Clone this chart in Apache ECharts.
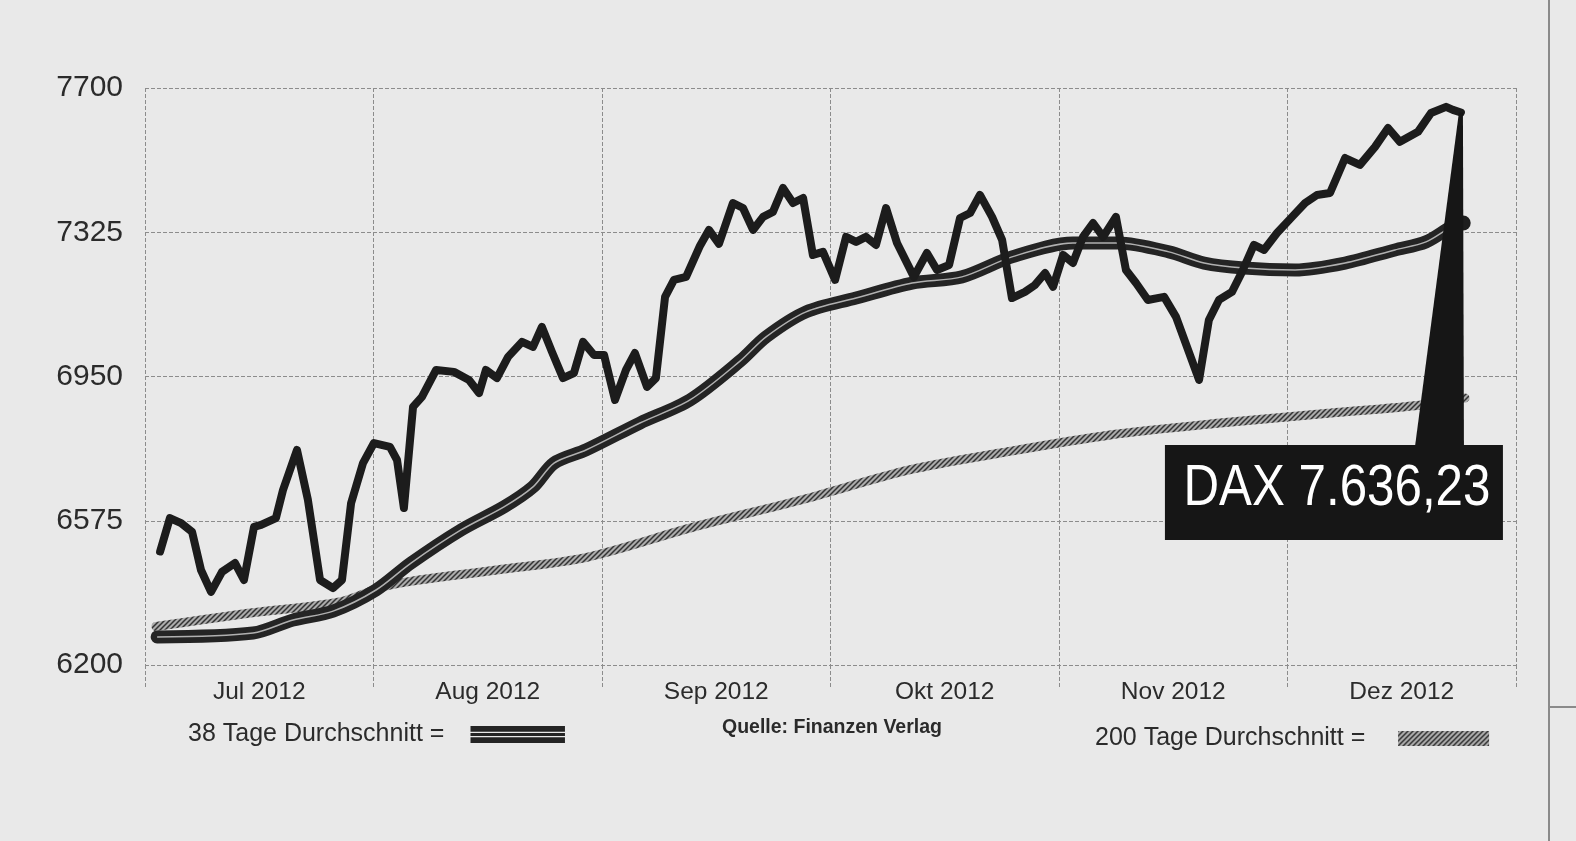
<!DOCTYPE html>
<html>
<head>
<meta charset="utf-8">
<script src="https://cdn.jsdelivr.net/npm/echarts@6/dist/echarts.min.js"></script>
<style>
  html, body { margin: 0; padding: 0; background: #e9e9e9; }
  #chart { width: 1576px; height: 841px; }
</style>
</head>
<body>
<div id="chart"></div>
<script>
// ---- data (x positions are in months since 1 Jul 2012) ----
const months = ['Jul 2012', 'Aug 2012', 'Sep 2012', 'Okt 2012', 'Nov 2012', 'Dez 2012'];
const yTicks = [6200, 6575, 6950, 7325, 7700];

const daxT = [0.066,0.109,0.158,0.206,0.245,0.289,0.337,0.394,0.433,0.477,
  0.508,0.573,0.604,0.665,0.713,0.766,0.823,0.862,0.902,0.954,
  1.002,1.072,1.103,1.133,1.173,1.212,1.274,1.352,1.418,1.462,
  1.492,1.540,1.589,1.650,1.698,1.737,1.781,1.829,1.877,1.917,
  1.965,2.009,2.057,2.105,2.144,2.197,2.236,2.276,2.315,2.368,
  2.429,2.468,2.512,2.573,2.617,2.661,2.705,2.748,2.792,2.836,
  2.880,2.923,2.967,3.020,3.068,3.112,3.155,3.199,3.243,3.291,
  3.365,3.422,3.466,3.519,3.567,3.611,3.654,3.707,3.751,3.794,
  3.851,3.895,3.939,3.974,4.018,4.061,4.105,4.149,4.193,4.249,
  4.293,4.337,4.389,4.460,4.512,4.613,4.656,4.700,4.757,4.801,
  4.853,4.897,4.954,5.020,5.077,5.129,5.186,5.252,5.317,5.383,
  5.440,5.492,5.571,5.628,5.694,5.724,5.759];
const daxV = [6495,6582,6569,6546,6447,6390,6442,6465,6421,6559,
  6564,6582,6655,6759,6629,6421,6400,6421,6621,6725,
  6777,6767,6733,6608,6871,6897,6967,6962,6941,6907,
  6967,6946,7001,7040,7027,7079,7014,6946,6959,7040,
  7006,7006,6889,6967,7011,6923,6946,7157,7201,7209,
  7290,7331,7295,7401,7388,7331,7365,7378,7440,7401,
  7414,7266,7274,7201,7313,7300,7313,7292,7388,7297,
  7209,7271,7227,7240,7362,7375,7422,7365,7305,7154,
  7170,7188,7219,7183,7266,7245,7313,7349,7313,7365,
  7227,7193,7149,7157,7105,6941,7097,7149,7170,7222,
  7292,7279,7323,7365,7401,7422,7427,7518,7500,7547,
  7596,7560,7586,7635,7651,7643,7636.23];

const ma38T = [0.053,0.473,0.648,0.823,1.011,1.164,1.383,1.571,1.698,1.790,
  1.930,2.166,2.385,2.604,2.718,2.893,3.112,3.357,3.575,3.794,
  4.061,4.258,4.481,4.635,4.810,5.033,5.252,5.470,5.606,5.716,5.759];
const ma38V = [6273,6283,6317,6340,6395,6465,6551,6611,6663,6725,
  6759,6829,6889,6990,7053,7118,7154,7193,7209,7261,
  7297,7297,7274,7245,7232,7227,7245,7279,7300,7339,7349];

const ma200T = [0.048,0.460,0.853,1.072,1.540,1.934,2.403,2.871,3.344,3.742,
  4.223,4.705,5.190,5.589,5.777];
const ma200V = [6300,6335,6364,6408,6447,6480,6559,6629,6707,6751,
  6798,6829,6855,6876,6894];

const seriesNames = ['38 Tage Durchschnitt', '200 Tage Durchschnitt', 'DAX'];
const sourceText = 'Quelle: Finanzen Verlag';

// ---- helpers ----
const zip = (a, b) => a.map((v, i) => [v, b[i]]);
function fmtDE(v) {
  const parts = v.toFixed(2).split('.');
  return parts[0].replace(/\B(?=(\d{3})+(?!\d))/g, '.') + ',' + parts[1];
}
function hatchCanvas() {
  const s = 5;
  const c = document.createElement('canvas');
  c.width = s; c.height = s;
  const g = c.getContext('2d');
  g.fillStyle = '#ababab';
  g.fillRect(0, 0, s, s);
  g.strokeStyle = '#333333';
  g.lineWidth = 1.5;
  g.beginPath();
  g.moveTo(0, s); g.lineTo(s, 0);
  g.moveTo(-1, 1); g.lineTo(1, -1);
  g.moveTo(s - 1, s + 1); g.lineTo(s + 1, s - 1);
  g.stroke();
  return c;
}
const hatch = { image: hatchCanvas(), repeat: 'repeat' };

const FONT = '"Liberation Sans", Arial, Helvetica, sans-serif';
const gridLine = { color: '#8c8c8c', width: 1, type: [4, 2] };

const chart = echarts.init(document.getElementById('chart'), null, { renderer: 'canvas' });

chart.setOption({
  backgroundColor: '#e9e9e9',
  animation: false,
  textStyle: { fontFamily: FONT },
  title: {
    text: sourceText,
    left: 722, top: 718, padding: 0,
    textStyle: { fontSize: 19.5, fontWeight: 'bold', color: '#2a2a2a', fontFamily: FONT }
  },
  legend: [
    {
      data: [{ name: seriesNames[0],
        icon: 'path://M0,0H100V6H0Z M0,7.3H100V10.7H0Z M0,12H100V18H0Z',
        itemStyle: { color: '#242424', borderWidth: 0, borderColor: 'transparent' } }],
      left: 188, top: 722, itemWidth: 95, itemHeight: 17, align: 'right',
      selectedMode: false, padding: 0,
      formatter: '{name} =   ',
      textStyle: { fontSize: 25, color: '#2b2b2b', fontFamily: FONT }
    },
    {
      data: [{ name: seriesNames[1], icon: 'rect',
        itemStyle: { color: hatch, borderWidth: 0, borderColor: 'transparent' } }],
      left: 1095, top: 726, itemWidth: 91, itemHeight: 15, align: 'right',
      selectedMode: false, padding: 0,
      formatter: '{name} =    ',
      textStyle: { fontSize: 25, color: '#2b2b2b', fontFamily: FONT }
    }
  ],
  grid: { left: 145, right: 60, top: 88, bottom: 176, containLabel: false },
  xAxis: [
    {
      type: 'category', data: months, boundaryGap: true,
      axisLine: { show: false },
      axisTick: { show: true, length: 23, interval: 0, lineStyle: gridLine },
      axisLabel: { fontSize: 24.5, color: '#2b2b2b', margin: 15, interval: 0, fontFamily: FONT },
      splitLine: { show: true, interval: 0, lineStyle: gridLine }
    },
    { type: 'value', min: 0, max: months.length, show: false }
  ],
  yAxis: {
    type: 'value',
    min: yTicks[0], max: yTicks[yTicks.length - 1], interval: yTicks[1] - yTicks[0],
    axisLine: { show: false }, axisTick: { show: false },
    axisLabel: { fontSize: 30, color: '#2b2b2b', margin: 22, fontFamily: FONT,
      formatter: v => String(v) },
    splitLine: { show: true, lineStyle: gridLine }
  },
  series: [
    {
      name: seriesNames[1], type: 'line', xAxisIndex: 1, data: zip(ma200T, ma200V),
      smooth: 0.3, showSymbol: false, z: 2, emphasis: { disabled: true },
      lineStyle: { color: hatch, width: 9, cap: 'round' }
    },
    {
      name: seriesNames[0], type: 'line', xAxisIndex: 1, data: zip(ma38T, ma38V),
      smooth: 0.3, showSymbol: false, z: 3, emphasis: { disabled: true },
      lineStyle: { color: '#242424', width: 13, cap: 'round' },
      itemStyle: { color: '#242424' },
      markPoint: {
        symbol: 'circle', symbolSize: 15, silent: true, label: { show: false },
        itemStyle: { color: '#1e1e1e' },
        data: [{ coord: [ma38T[ma38T.length - 1] + 0.01, ma38V[ma38V.length - 1]] }]
      }
    },
    {
      name: 'ma38-stripe', type: 'line', xAxisIndex: 1, data: zip(ma38T, ma38V),
      smooth: 0.3, showSymbol: false, z: 4, emphasis: { disabled: true },
      lineStyle: { color: '#b0b0b0', width: 1.5 }
    },
    {
      name: seriesNames[2], type: 'line', xAxisIndex: 1, data: zip(daxT, daxV),
      showSymbol: false, z: 5, emphasis: { disabled: true },
      lineStyle: { color: '#1c1c1c', width: 8, join: 'round', cap: 'round' }
    }
  ]
});

// ---- DAX call-out anchored at the last data point ----
const n = daxT.length;
const tip = chart.convertToPixel({ xAxisIndex: 1, yAxisIndex: 0 }, [daxT[n - 1], daxV[n - 1]]);
const boxTop = chart.convertToPixel({ yAxisIndex: 0 }, 6772);
const boxBottom = chart.convertToPixel({ yAxisIndex: 0 }, 6525);
const boxLeft = tip[0] - 296, boxRight = tip[0] + 42;
const label = 'DAX ' + fmtDE(daxV[n - 1]);

chart.setOption({
  graphic: [
    { type: 'polygon', z: 100, silent: true,
      shape: { points: [[tip[0] - 2, tip[1]], [tip[0] - 46, boxTop + 2], [tip[0] + 3, boxTop + 2], [tip[0] + 2, tip[1]]] },
      style: { fill: '#161616' } },
    { type: 'rect', z: 100, silent: true,
      shape: { x: boxLeft, y: boxTop, width: boxRight - boxLeft, height: boxBottom - boxTop },
      style: { fill: '#161616' } },
    { type: 'text', z: 101, silent: true,
      x: (boxLeft + boxRight) / 2 + 3, y: (boxTop + boxBottom) / 2 - 3,
      scaleX: 0.85,
      style: { text: label, fill: '#ffffff', fontSize: 58, fontFamily: FONT,
        align: 'center', verticalAlign: 'middle', textAlign: 'center', textVerticalAlign: 'middle' } },
    { type: 'line', z: 1, silent: true, shape: { x1: 1549, y1: 0, x2: 1549, y2: 841 },
      style: { stroke: '#8a8a8a', lineWidth: 2 } },
    { type: 'line', z: 1, silent: true, shape: { x1: 1549, y1: 707, x2: 1576, y2: 707 },
      style: { stroke: '#8a8a8a', lineWidth: 2 } }
  ]
});
</script>
</body>
</html>
